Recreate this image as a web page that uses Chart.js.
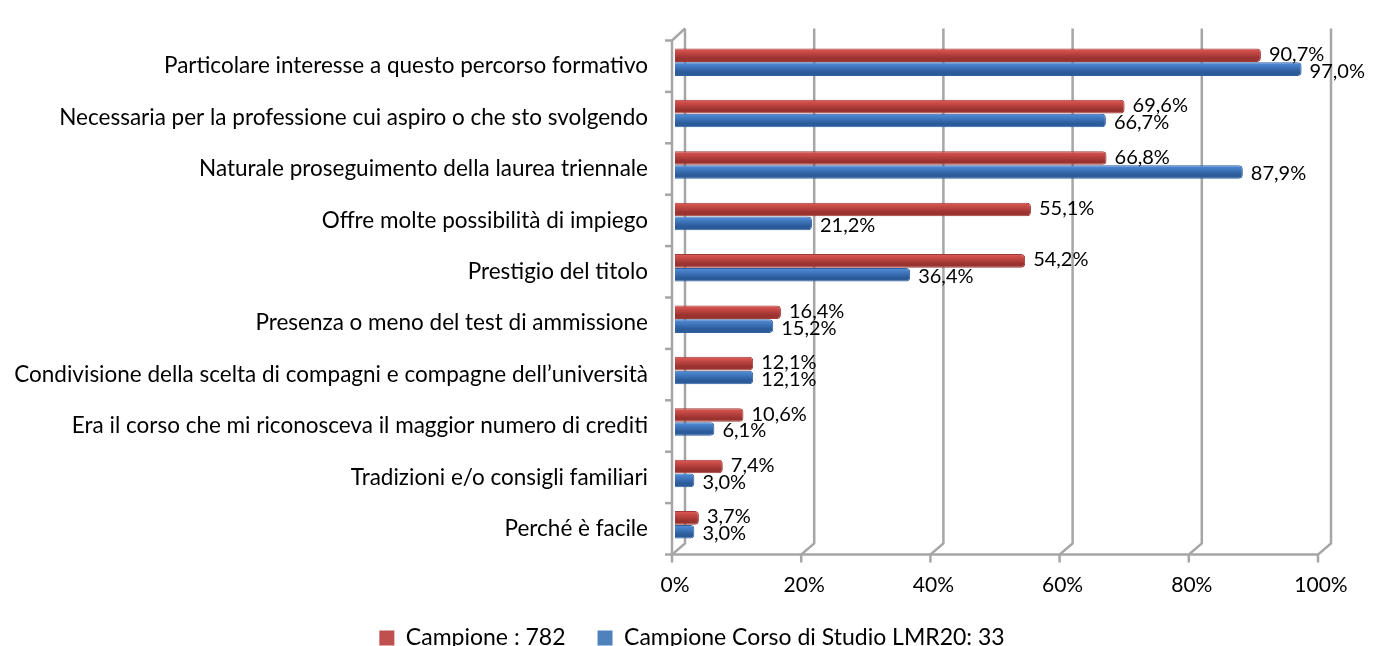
<!DOCTYPE html>
<html>
<head>
<meta charset="utf-8">
<script src="https://cdn.jsdelivr.net/npm/chart.js@4/dist/chart.umd.min.js"></script>
<style>
  html, body { margin: 0; padding: 0; background: #fff; }
  #wrap { width: 1375px; height: 646px; }
</style>
</head>
<body>
<div id="wrap"><canvas id="chart" width="1375" height="646"></canvas></div>
<script>
// categories, top to bottom
const categories = [
  'Particolare interesse a questo percorso formativo',
  'Necessaria per la professione cui aspiro o che sto svolgendo',
  'Naturale proseguimento della laurea triennale',
  'Offre molte possibilità di impiego',
  'Prestigio del titolo',
  'Presenza o meno del test di ammissione',
  'Condivisione della scelta di compagni e compagne dell\u2019università',
  'Era il corso che mi riconosceva il maggior numero di crediti',
  'Tradizioni e/o consigli familiari',
  'Perché è facile'
];
const campione = [90.7, 69.6, 66.8, 55.1, 54.2, 16.4, 12.1, 10.6, 7.4, 3.7];
const campioneLMR20 = [97.0, 66.7, 87.9, 21.2, 36.4, 15.2, 12.1, 6.1, 3.0, 3.0];
const seriesNames = ['Campione : 782', 'Campione Corso di Studio LMR20: 33'];
const xTicks = [0, 20, 40, 60, 80, 100];

const FONT = 'Lato, "Open Sans", sans-serif';
const gridGray = '#a6a6a6';
const DEPTH = 4; // bars sit a little behind the category centre

// cylinder-like shading, computed from the bar element once it has a position
function shade(light, mid, dark) {
  return c => {
    const el = c.element;
    if (!el || !isFinite(el.y) || !isFinite(el.height)) return mid;
    const h = Math.abs(el.height);
    const g = c.chart.ctx.createLinearGradient(0, el.y - h / 2 - DEPTH, 0, el.y + h / 2 - DEPTH);
    g.addColorStop(0, light);
    g.addColorStop(0.45, mid);
    g.addColorStop(1, dark);
    return g;
  };
}

// walls, floor and gridlines, drawn from the scales
const wallsPlugin = {
  id: 'walls',
  afterLayout(chart) {
    // centre the legend row under the whole picture, like the original
    if (chart.legend) chart.legend.left = 63;
  },
  beforeDatasetsDraw(chart) {
    const { ctx, chartArea: a, scales: { x, y } } = chart;
    const front = -3, back = 10, dy = 11;
    ctx.save();
    ctx.strokeStyle = gridGray;
    ctx.lineWidth = 2.5;
    xTicks.forEach(v => {
      const px = x.getPixelForValue(v);
      ctx.beginPath();
      ctx.moveTo(px + back, a.top - 12);
      ctx.lineTo(px + back, a.bottom - dy);
      ctx.lineTo(px + front, a.bottom);
      ctx.lineTo(px + front, a.bottom + 8);
      ctx.stroke();
    });
    const x0 = x.getPixelForValue(0), x1 = x.getPixelForValue(100);
    ctx.beginPath();
    ctx.moveTo(x0 + back, a.top - 12);
    ctx.lineTo(x0 + front, a.top);
    ctx.lineTo(x0 + front, a.bottom);
    ctx.lineTo(x1 + front, a.bottom);
    ctx.stroke();
    // category boundary ticks on the left wall
    const half = (y.getPixelForValue(1) - y.getPixelForValue(0)) / 2;
    for (let i = 0; i <= categories.length; i++) {
      const py = y.getPixelForValue(i) - half;
      ctx.beginPath();
      ctx.moveTo(x0 + front - 7, py);
      ctx.lineTo(x0 + front, py);
      ctx.stroke();
    }
    ctx.restore();
  }
};

const depthPlugin = {
  id: 'depth',
  beforeDatasetsDraw(chart) { chart.ctx.save(); chart.ctx.translate(0, -DEPTH); },
  afterDatasetsDraw(chart) { chart.ctx.restore(); }
};

// value labels at the end of each bar
const valueLabels = {
  id: 'valueLabels',
  afterDatasetsDraw(chart) {
    const ctx = chart.ctx;
    ctx.save();
    ctx.font = '20px ' + FONT;
    ctx.fillStyle = '#000';
    ctx.textBaseline = 'middle';
    ctx.textAlign = 'left';
    chart.data.datasets.forEach((ds, di) => {
      chart.getDatasetMeta(di).data.forEach((bar, i) => {
        const txt = ds.data[i].toFixed(1).replace('.', ',') + '%';
        ctx.fillText(txt, bar.x + 8, bar.y - DEPTH + (di === 0 ? -1 : 2));
      });
    });
    ctx.restore();
  }
};

const chart = new Chart(document.getElementById('chart'), {
  type: 'bar',
  data: {
    labels: categories,
    datasets: [{
      label: seriesNames[0],
      data: campione,
      backgroundColor: shade('#e98380', '#d2504c', '#9a3330'),
      borderColor: '#a03a37',
      borderWidth: 1,
      borderRadius: 4,
      borderSkipped: 'start',
      categoryPercentage: 0.54,
      barPercentage: 0.98
    }, {
      label: seriesNames[1],
      data: campioneLMR20,
      backgroundColor: shade('#7eaae3', '#4a84cf', '#2c5b99'),
      borderColor: '#31609e',
      borderWidth: 1,
      borderRadius: 4,
      borderSkipped: 'start',
      categoryPercentage: 0.54,
      barPercentage: 0.98
    }]
  },
  options: {
    indexAxis: 'y',
    responsive: false,
    animation: false,
    layout: { padding: { top: 27, right: 54, bottom: -13.5, left: 0 } },
    plugins: {
      legend: {
        position: 'bottom',
        labels: {
          boxWidth: 15, boxHeight: 15, padding: 32,
          color: '#000',
          font: { family: FONT, size: 23 },
          generateLabels: ch => ch.data.datasets.map((ds, i) => ({
            text: ds.label,
            fillStyle: i === 0 ? '#c0504d' : '#4f81bd',
            strokeStyle: i === 0 ? '#c0504d' : '#4f81bd',
            lineWidth: 0,
            fontColor: '#000',
            datasetIndex: i
          }))
        }
      },
      tooltip: { enabled: false }
    },
    scales: {
      x: {
        min: 0, max: 100,
        grid: { display: false, drawTicks: false, tickLength: 0 },
        border: { display: false },
        afterFit: s => { s.height = 40; },
        ticks: {
          stepSize: 20,
          padding: 20.5,
          color: '#000',
          font: { family: FONT, size: 21, lineHeight: 1 },
          callback: v => v + '%'
        }
      },
      y: {
        grid: { display: false, drawTicks: false, tickLength: 0 },
        border: { display: false },
        afterFit: s => { s.width = 675; },
        ticks: {
          padding: 27,
          color: '#000',
          font: { family: FONT, size: 22.5 }
        }
      }
    }
  },
  plugins: [wallsPlugin, depthPlugin, valueLabels]
});
chart.update();
</script>
</body>
</html>
